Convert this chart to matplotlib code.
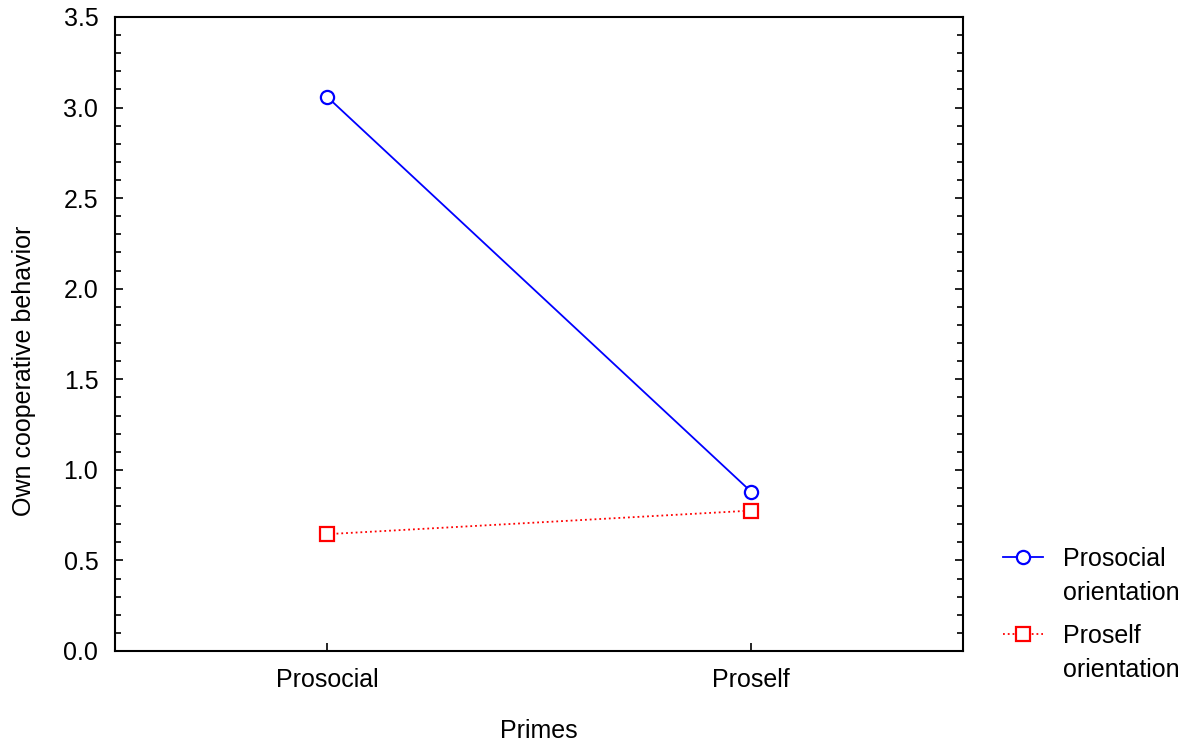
import matplotlib
matplotlib.use("Agg")
import matplotlib.pyplot as plt
from matplotlib.ticker import MultipleLocator, FormatStrFormatter
from matplotlib.lines import Line2D

plt.rcParams['font.family'] = ['Liberation Sans', 'DejaVu Sans']

categories = ["Prosocial", "Proself"]
prosocial_orientation = [3.06, 0.88]
proself_orientation = [0.645, 0.775]
series_labels = ["Prosocial\norientation", "Proself\norientation"]

fs = 18
W, H = 1193, 744

fig = plt.figure(figsize=(W/100, H/100), dpi=100)
ax = fig.add_axes([115/W, 1 - 651/H, (963-115)/W, (651-17)/H])

blue_style = dict(color='#0000ff', lw=1.3, ls='-', marker='o', ms=9.5,
                  mfc='white', mec='#0000ff', mew=1.6)
red_style = dict(color='#ff0000', lw=1.3, ls=':', marker='s', ms=10.5,
                 mfc='white', mec='#ff0000', mew=1.6)

x = list(range(len(categories)))
ax.plot(x, prosocial_orientation, **blue_style)
ax.plot(x, proself_orientation, **red_style)

ax.set_xlim(-0.5, 1.5)
ax.set_ylim(0, 3.5)
ax.set_xticks(x)
ax.set_xticklabels(categories, fontsize=fs)
ax.yaxis.set_major_locator(MultipleLocator(0.5))
ax.yaxis.set_minor_locator(MultipleLocator(0.1))
ax.yaxis.set_major_formatter(FormatStrFormatter('%.1f'))
ax.tick_params(axis='y', which='both', direction='in', left=True, right=True, labelsize=fs, pad=12)
ax.tick_params(axis='y', which='major', length=6, width=1.2)
ax.tick_params(axis='y', which='minor', length=4, width=1.2)
ax.tick_params(axis='x', which='major', direction='in', length=6, width=1.2, labelsize=fs, pad=12)
for s in ax.spines.values():
    s.set_linewidth(1.5)

ax.set_xlabel("Primes", fontsize=fs, labelpad=20)
ax.set_ylabel("Own cooperative behavior", fontsize=fs, labelpad=20, y=0.442)

# Legend drawn manually so the handle aligns with the first text line
legend_rows = [(557, blue_style, series_labels[0]), (634, red_style, series_labels[1])]
for ypx, style, label in legend_rows:
    yf = 1 - ypx / H
    line_style = {k: v for k, v in style.items() if not k.startswith('m')}
    fig.add_artist(Line2D([1003/W, 1043/W], [yf, yf], transform=fig.transFigure, **line_style))
    mk = {k: v for k, v in style.items() if k not in ('lw', 'ls')}
    fig.add_artist(Line2D([1023/W], [yf], transform=fig.transFigure, ls='none', **mk))
    fig.text(1063/W, 1 - (ypx - 10)/H, label, fontsize=fs, va='top', ha='left',
             linespacing=1.55)

fig.savefig("out.png", dpi=100)
